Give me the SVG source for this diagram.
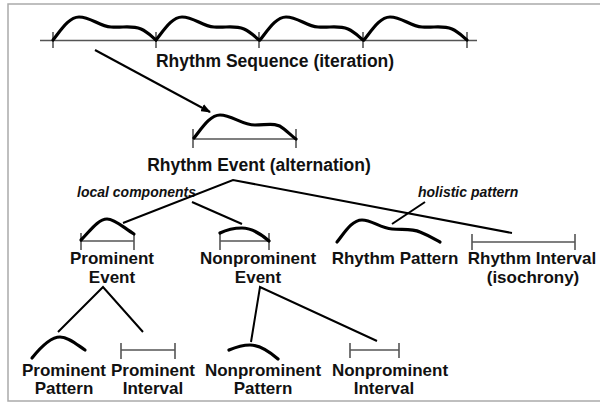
<svg xmlns="http://www.w3.org/2000/svg" width="600" height="403" viewBox="0 0 600 403">
<defs>
<style>
.t{font-family:"Liberation Sans",Arial,sans-serif;font-weight:bold;font-size:17px;fill:#111;text-anchor:middle}
.w{font-size:17.5px}
.it{font-family:"Liberation Sans",Arial,sans-serif;font-weight:bold;font-style:italic;font-size:14px;fill:#111}
.cv{fill:none;stroke:#000;stroke-width:3.2;stroke-linecap:round;stroke-linejoin:round}
.iv{fill:none;stroke:#555;stroke-width:1.6}
.ln{fill:none;stroke:#000;stroke-width:2}
</style>
<marker id="ah" markerWidth="10" markerHeight="8" refX="9" refY="4" orient="auto" markerUnits="userSpaceOnUse">
<path d="M0,0 L10,4 L0,8 Z" fill="#000"/>
</marker>
<path id="hump" d="M0,40 C8,30 16,17 26,17 C38,17 46,26 58,27 C70,28 78,25 88,29 C95,32 99,37 103,40"/>
</defs>
<rect x="0" y="0" width="600" height="403" fill="#fff"/>
<rect x="8" y="4" width="600" height="397" fill="none" stroke="#aaa" stroke-width="1.5"/>

<g id="rhythm-sequence">
<line class="iv" x1="40" y1="40.5" x2="477" y2="40.5"/>
<path class="iv" d="M53,32V48M156,32V48M259,32V48M363,32V48M467,32V48"/>
<use href="#hump" class="cv" x="53"/>
<use href="#hump" class="cv" x="156"/>
<use href="#hump" class="cv" x="260"/>
<use href="#hump" class="cv" x="364"/>
<text class="t w" x="275" y="67">Rhythm Sequence (iteration)</text>
</g>

<g id="rhythm-event">
<line class="iv" x1="193" y1="139" x2="296" y2="139"/>
<path class="iv" d="M193,129V148M296,129V148"/>
<path class="cv" d="M194,138 C202,128 210,115 220,115 C232,115 242,125 255,125 C268,125 276,122 284,129 C290,134 293,137 296,139"/>
<text class="t w" x="259" y="171">Rhythm Event (alternation)</text>
</g>

<g id="prominent-event">
<line class="iv" x1="81" y1="241" x2="134" y2="241"/>
<path class="iv" d="M81,233V250M134,233V250"/>
<path class="cv" d="M81,240 C90,231 98,219 107,219 C115,219 124,228 134,234"/>
<text class="t" x="112" y="264">Prominent</text>
<text class="t" x="112" y="283">Event</text>
</g>

<g id="nonprominent-event">
<line class="iv" x1="220" y1="241" x2="269" y2="241"/>
<path class="iv" d="M220,233V250M269,233V250"/>
<path class="cv" d="M220,233 C228,229 235,228 242,228 C252,228 261,234 269,241"/>
<text class="t" x="258" y="264">Nonprominent</text>
<text class="t" x="258" y="283">Event</text>
</g>

<g id="rhythm-pattern">
<path class="cv" d="M337,242 C345,232 352,220 362,220 C372,220 380,228 392,229 C402,230 412,228 420,232 C430,236 436,240 440,242"/>
<text class="t" x="395" y="264">Rhythm Pattern</text>
</g>

<g id="rhythm-interval">
<line class="iv" x1="472" y1="242" x2="575" y2="242"/>
<path class="iv" d="M472,234V250M575,234V250"/>
<text class="t" x="532" y="264">Rhythm Interval</text>
<text class="t" x="533" y="283">(isochrony)</text>
</g>

<g id="prominent-pattern">
<path class="cv" d="M32,358 C40,348 50,337 60,337 C68,337 76,344 85,350"/>
<text class="t" x="64" y="376">Prominent</text>
<text class="t" x="64" y="394">Pattern</text>
</g>

<g id="prominent-interval">
<line class="iv" x1="121" y1="350" x2="175" y2="350"/>
<path class="iv" d="M121,343V359M175,343V359"/>
<text class="t" x="153" y="376">Prominent</text>
<text class="t" x="153" y="394">Interval</text>
</g>

<g id="nonprominent-pattern">
<path class="cv" d="M229,350 C236,347 243,345 250,345 C260,345 270,352 278,359"/>
<text class="t" x="263" y="376">Nonprominent</text>
<text class="t" x="263" y="394">Pattern</text>
</g>

<g id="nonprominent-interval">
<line class="iv" x1="350" y1="350" x2="399" y2="350"/>
<path class="iv" d="M350,343V358M399,343V358"/>
<text class="t" x="390" y="376">Nonprominent</text>
<text class="t" x="384" y="394">Interval</text>
</g>

<g id="labels">
<text class="it" x="77" y="197">local components</text>
<text class="it" x="418" y="197">holistic pattern</text>
</g>

<g id="connectors">
<line class="ln" x1="95" y1="50" x2="210" y2="112" stroke-width="1.8" marker-end="url(#ah)"/>
<polyline class="ln" points="123,223 233,180 512,233"/>
<line class="ln" x1="192" y1="202" x2="242" y2="224"/>
<line class="ln" x1="425" y1="202" x2="392" y2="224"/>
<polyline class="ln" points="58,332 103,287 143,332"/>
<polyline class="ln" points="251,342 260,287 377,341"/>
</g>
</svg>
